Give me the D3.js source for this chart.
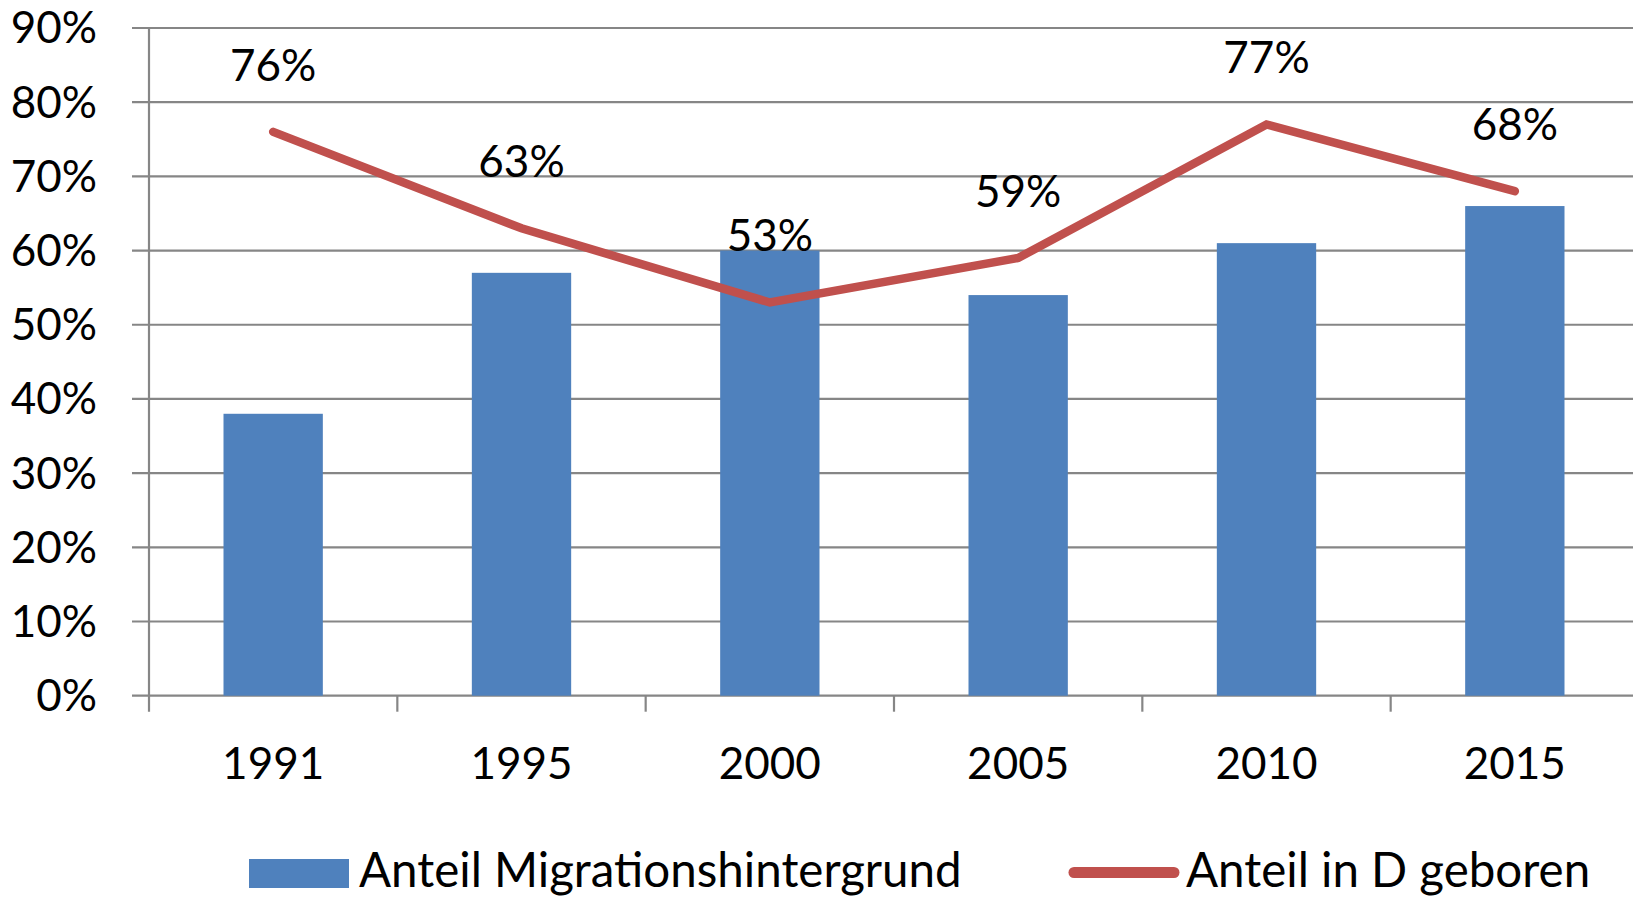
<!DOCTYPE html>
<html><head><meta charset="utf-8">
<script src="https://cdn.jsdelivr.net/npm/d3@7"></script>
<style>html,body{margin:0;padding:0;background:#fff;overflow:hidden}</style>
</head><body>
<svg id="c" width="1633" height="898"></svg>
<script>
const years = ["1991","1995","2000","2005","2010","2015"];
const migration = [38, 57, 60, 54, 61, 66];
const bornInD = [76, 63, 53, 59, 77, 68];
const yTicks = [0,10,20,30,40,50,60,70,80,90];
const legendLabels = ["Anteil Migrationshintergrund", "Anteil in D geboren"];

const FONT = "Lato, 'Open Sans', sans-serif";
const FS = 44;
const LFS = 47.5;
const svg = d3.select("#c");
const pLeft = 149, pRight = 1639, pTop = 28, pBottom = 695.7;
const x = d3.scaleBand().domain(years).range([pLeft, pRight]).paddingInner(0.6).paddingOuter(0.3);
const y = d3.scaleLinear().domain([0, 90]).range([pBottom, pTop]);
const grid = "#868686";

// gridlines
svg.append("g").selectAll("line").data(yTicks).join("line")
  .attr("x1", 132).attr("x2", 1633)
  .attr("y1", d => y(d)).attr("y2", d => y(d))
  .attr("stroke", grid).attr("stroke-width", 2.2);
// y axis line
svg.append("line").attr("x1", pLeft).attr("x2", pLeft).attr("y1", pTop).attr("y2", pBottom + 16)
  .attr("stroke", grid).attr("stroke-width", 2.2);
// x ticks at band boundaries
const bounds = years.map(d => x(d) - x.step() * x.paddingInner() / 2).slice(1);
svg.append("g").selectAll("line").data(bounds).join("line")
  .attr("x1", d => d).attr("x2", d => d).attr("y1", pBottom).attr("y2", pBottom + 16)
  .attr("stroke", grid).attr("stroke-width", 2.2);

// y tick labels
svg.append("g").selectAll("text").data(yTicks).join("text")
  .attr("x", 97).attr("y", d => y(d)).attr("dy", "0.35em")
  .attr("text-anchor", "end").attr("font-family", FONT).attr("font-size", FS)
  .attr("fill", "#000").text(d => d + "%");

// x labels
svg.append("g").selectAll("text").data(years).join("text")
  .attr("x", d => x(d) + x.bandwidth() / 2).attr("y", 779)
  .attr("text-anchor", "middle").attr("font-family", FONT).attr("font-size", FS)
  .attr("fill", "#000").text(d => d);

// bars
svg.append("g").selectAll("rect").data(years).join("rect")
  .attr("x", d => x(d)).attr("width", x.bandwidth())
  .attr("y", (d, i) => y(migration[i])).attr("height", (d, i) => pBottom - y(migration[i]))
  .attr("fill", "#4F81BD");

// line
const line = d3.line().x((d, i) => x(years[i]) + x.bandwidth() / 2).y(d => y(d));
svg.append("path").datum(bornInD).attr("d", line)
  .attr("fill", "none").attr("stroke", "#C0504D").attr("stroke-width", 8.5)
  .attr("stroke-linecap", "round").attr("stroke-linejoin", "miter");

// data labels
svg.append("g").selectAll("text").data(bornInD).join("text")
  .attr("x", (d, i) => x(years[i]) + x.bandwidth() / 2).attr("y", d => y(d) - 51)
  .attr("text-anchor", "middle").attr("font-family", FONT).attr("font-size", FS)
  .attr("fill", "#000").text(d => d + "%");

// legend
const lg = svg.append("g");
lg.append("rect").attr("x", 249).attr("y", 859).attr("width", 100).attr("height", 29).attr("fill", "#4F81BD");
lg.append("text").attr("x", 359).attr("y", 887).attr("font-family", FONT).attr("font-size", LFS).text(legendLabels[0]);
lg.append("line").attr("x1", 1074).attr("x2", 1174).attr("y1", 872.5).attr("y2", 872.5)
  .attr("stroke", "#C0504D").attr("stroke-width", 11).attr("stroke-linecap", "round");
lg.append("text").attr("x", 1186).attr("y", 887).attr("font-family", FONT).attr("font-size", LFS).text(legendLabels[1]);
</script>
</body></html>
